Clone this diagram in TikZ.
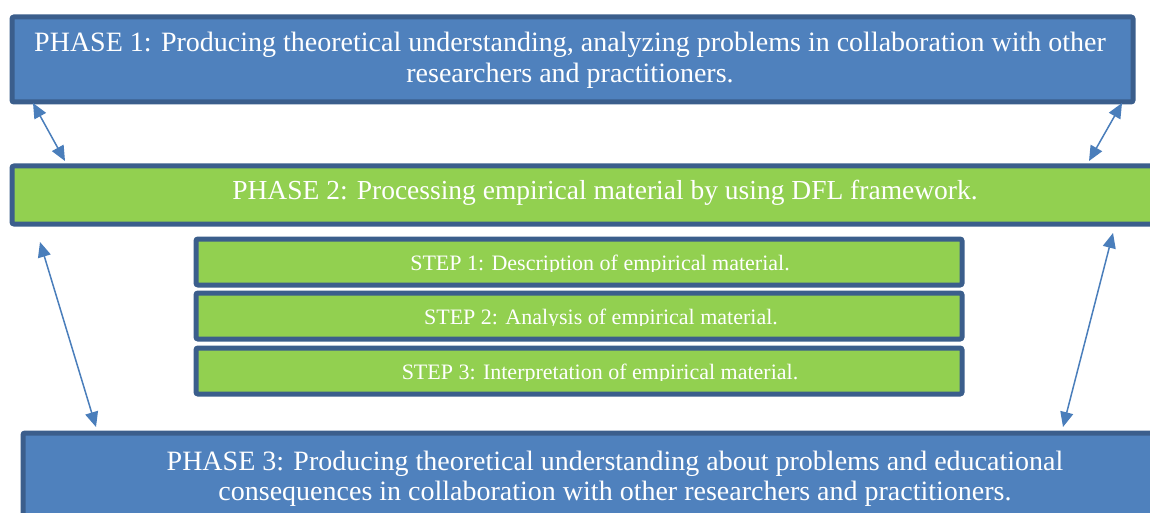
\documentclass[tikz,border=0pt]{standalone}
\usepackage{fontspec}
\setmainfont{Liberation Serif}
\usetikzlibrary{arrows.meta}
\definecolor{pblue}{HTML}{4F81BD}
\definecolor{pborder}{HTML}{3B5E8C}
\definecolor{pgreen}{HTML}{92D050}
\definecolor{arrowblue}{HTML}{4A7EBB}
\tikzset{
  box/.style={draw=pborder, line width=5pt, rounded corners=2pt, inner sep=0pt, anchor=north west},
  phasebox/.style={box, fill=pblue},
  greenbox/.style={box, fill=pgreen},
  phasetext/.style={text=white, font=\fontsize{28}{31}\selectfont, anchor=base, inner sep=0pt},
  phasetwotext/.style={phasetext, font=\fontsize{27.5}{31}\selectfont},
  steptext/.style={text=white, font=\fontsize{22}{24}\selectfont, anchor=base, inner sep=0pt},
  link/.style={draw=arrowblue, line width=1.5pt, {Triangle[length=15pt,width=13pt]}-{Triangle[length=15pt,width=13pt]}}
}
\begin{document}
\begin{tikzpicture}[x=1pt,y=-1pt]
\clip (0,0) rectangle (1150,513);
\fill[white] (0,0) rectangle (1150,513);
% boxes (coordinates are centres of the 5pt borders)
\node[phasebox, minimum width=1121pt, minimum height=85pt] (p1) at (9.5,14.5) {};
\node[greenbox, minimum width=1200pt, minimum height=58pt] (p2) at (9.5,163.5) {};
\node[greenbox, minimum width=766pt, minimum height=46pt] (s1) at (193.5,236.5) {};
\node[greenbox, minimum width=766pt, minimum height=46pt] (s2) at (193.5,290.5) {};
\node[greenbox, minimum width=766pt, minimum height=46pt] (s3) at (193.5,345.5) {};
\node[phasebox, minimum width=1200pt, minimum height=120pt] (p3) at (20.5,430.5) {};
% texts
\node[phasetext] (t1a) at (570,52) {PHASE 1: Producing theoretical understanding, analyzing problems in collaboration with other};
\node[phasetext] (t1b) at (570,83) {researchers and practitioners.};
\node[phasetwotext] (t2) at (605,200) {PHASE 2: Processing empirical material by using DFL framework.};
\begin{scope}
\clip (196,238) rectangle (958,271);
\node[steptext] (st1) at (600,270) {STEP 1: Description of empirical material.};
\end{scope}
\begin{scope}
\clip (196,292) rectangle (958,325);
\node[steptext] (st2) at (601,324) {STEP 2: Analysis of empirical material.};
\end{scope}
\begin{scope}
\clip (196,347) rectangle (958,380);
\node[steptext] (st3) at (600,379) {STEP 3: Interpretation of empirical material.};
\end{scope}
\node[phasetext] (t3a) at (615,470) {PHASE 3: Producing theoretical understanding about problems and educational};
\node[phasetext] (t3b) at (615,500) {consequences in collaboration with other researchers and practitioners.};
% arrow end points
\coordinate (a1t) at (33,103);
\coordinate (a1b) at (65,161);
\coordinate (a2t) at (1122,103);
\coordinate (a2b) at (1089,161);
\coordinate (a3t) at (40,242);
\coordinate (a3b) at (96,427);
\coordinate (a4t) at (1113,233);
\coordinate (a4b) at (1063,427);
\draw[link] (a1t) -- (a1b);
\draw[link] (a2t) -- (a2b);
\draw[link] (a3t) -- (a3b);
\draw[link] (a4t) -- (a4b);
\end{tikzpicture}
\end{document}
